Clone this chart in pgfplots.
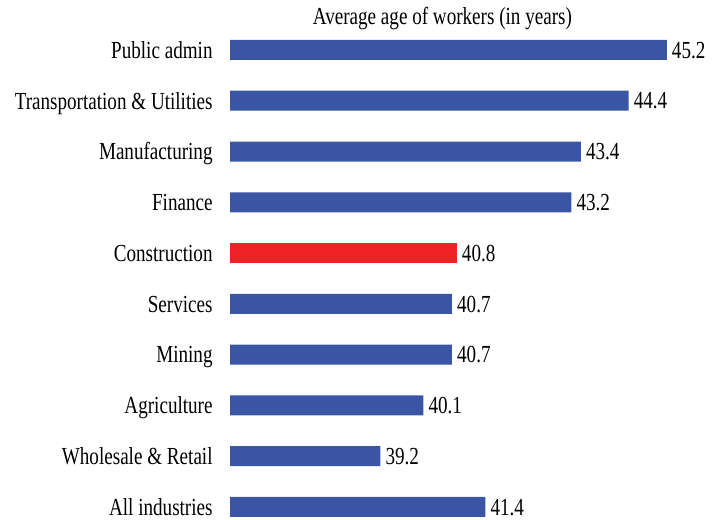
\documentclass[border=0pt]{standalone}
\usepackage{fontspec}
\setmainfont[FakeStretch=0.78]{Liberation Serif}
\usepackage{pgfplots}
\pgfplotsset{compat=1.18}
\definecolor{barblue}{RGB}{58,85,164}
\definecolor{barred}{RGB}{238,34,36}

\begin{document}
\begin{tikzpicture}[font=\fontsize{24.5}{29}\selectfont]
\begin{axis}[
  xbar,
  bar width=20pt,
  bar shift=0pt,
  scale only axis,
  width=477.3pt, height=507.8pt,
  xmin=36.05, xmax=46.05,
  ymin=-0.5, ymax=9.5,
  clip=false,
  axis lines*=left,
  axis line style={draw=none},
  xtick=\empty,
  ytick={0,...,9},
  yticklabels={All industries, Wholesale \& Retail, Agriculture, Mining, Services,
    Construction, Finance, Manufacturing, Transportation \& Utilities, Public admin},
  ytick style={draw=none},
  yticklabel style={anchor=base east, inner sep=0pt, xshift=-13pt, yshift=-8.3pt},
  nodes near coords,
  /pgf/number format/.cd, fixed, precision=1, fixed zerofill, assume math mode=true,
  /pgfplots/.cd,
  every node near coord/.append style={anchor=base west, inner sep=0pt, xshift=5pt, yshift=-8.2pt, text=black},
]
% blue bars
\addplot[fill=barblue, draw=none] coordinates {
  (41.4,0) (39.2,1) (40.1,2) (40.7,3) (40.7,4) (43.2,6) (43.4,7) (44.4,8) (45.2,9)};
% construction
\addplot[fill=barred, draw=none] coordinates {(40.8,5)};
\node[anchor=base, inner sep=0pt, font=\fontsize{24.5}{29}\selectfont] at (axis cs:40.5,9.492) {Average age of workers (in years)};
\coordinate (bbl) at (axis cs:31.23,-0.256);
\coordinate (btr) at (axis cs:46.42,9.984);
\end{axis}
\pgfresetboundingbox
\useasboundingbox (bbl) rectangle (btr);
\end{tikzpicture}
\end{document}
